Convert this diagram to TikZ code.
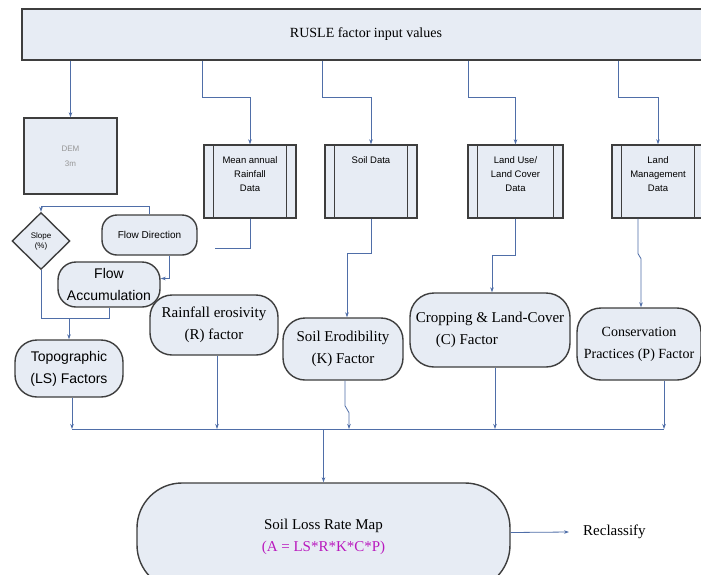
\documentclass[tikz,border=0pt]{standalone}
\usepackage{fontspec}
\setmainfont{Liberation Serif}
\setsansfont{Liberation Sans}
\usetikzlibrary{shapes.geometric,arrows.meta}
\definecolor{boxfill}{RGB}{231,236,244}
\definecolor{boxline}{RGB}{62,62,62}
\definecolor{connc}{RGB}{79,110,168}
\definecolor{formulac}{RGB}{185,25,190}
\definecolor{demtext}{RGB}{150,150,150}
\newcommand\myfs[2]{\fontsize{#1}{#2}\selectfont}
\begin{document}
\begin{tikzpicture}[x=1pt,y=-1pt,
  box/.style={draw=boxline,fill=boxfill,line width=1.4pt,inner sep=0pt},
  databox/.style={box,minimum width=92pt,minimum height=73pt},
  datalab/.style={font=\sffamily\myfs{9.5}{14},align=center,anchor=north,yshift=-9pt},
  term/.style={box,rounded corners=#1,align=center},
  term/.default=20pt,
  conn/.style={draw=connc,line width=0.8pt},
  arr/.style={conn,-{Stealth[length=5pt,width=3.5pt]}},
  factor/.style={font=\myfs{15}{22}},
  sfactor/.style={font=\sffamily\myfs{14}{22}}
]
\useasboundingbox (0,0) rectangle (701,574);
\clip (0,0) rectangle (701,574);
\fill[white] (0,0) rectangle (701,574);

% top bar
\node[box,minimum width=688pt,minimum height=51pt,font=\myfs{14}{16}] (top) at (366,34.5) {RUSLE factor input values};

% DEM and data boxes
\node[box,minimum width=93pt,minimum height=76pt,align=center,font=\sffamily\myfs{8}{15},text=demtext] (dem) at (70.5,156) {DEM\\3m};
\node[databox,label={[datalab]north:Mean annual\\Rainfall\\Data}] (d1) at (250,181.5) {};
\node[databox,label={[datalab]north:Soil Data}] (d2) at (371,181.5) {};
\node[databox,minimum width=95pt,label={[datalab]north:Land Use/\\Land Cover\\Data}] (d3) at (515.5,181.5) {};
\node[databox,label={[datalab]north:Land\\Management\\Data}] (d4) at (658,181.5) {};
\foreach \n in {d1,d2,d3,d4}{
  \draw[draw=boxline,line width=1.2pt] ([xshift=10pt]\n.north west) -- ([xshift=10pt]\n.south west);
  \draw[draw=boxline,line width=1.2pt] ([xshift=-10pt]\n.north east) -- ([xshift=-10pt]\n.south east);
}

% left-hand terrain chain
\node[box,diamond,minimum width=58pt,minimum height=57pt,align=center,font=\sffamily\myfs{8}{10}] (slope) at (41,241) {Slope\\(\%)};
\node[term=15pt,minimum width=95pt,minimum height=40pt,font=\sffamily\myfs{10}{12}] (fdir) at (149.5,235) {Flow Direction};
\node[term=18pt,minimum width=102pt,minimum height=45pt,sfactor] (facc) at (109,284.5) {Flow\\Accumulation};
\node[term=22pt,minimum width=108pt,minimum height=57pt,sfactor] (ls) at (69,368.5) {Topographic\\(LS) Factors};

% factor nodes
\node[term=22pt,minimum width=128pt,minimum height=60pt,factor] (rf) at (214,325) {Rainfall erosivity\\(R) factor};
\node[term=22pt,minimum width=120pt,minimum height=62pt,factor] (kf) at (343,349) {Soil Erodibility\\(K) Factor};
\node[term=24pt,minimum width=160pt,minimum height=74pt,factor,align=left] (cf) at (490,330) {Cropping \& Land-Cover\\\hspace*{20pt}(C) Factor};
\node[term=24pt,minimum width=124pt,minimum height=72pt,font=\myfs{14}{22}] (pf) at (639,344) {Conservation\\Practices (P) Factor};

% result
\node[term=45pt,minimum width=373pt,minimum height=107pt,factor] (sl) at (323.5,536.5) {Soil Loss Rate Map\\\textcolor{formulac}{(A = LS*R*K*C*P)}};
\node[anchor=west,inner sep=2pt,font=\myfs{15}{18}] (rc) at (581,532) {Reclassify};

% connectors from the top bar
\draw[arr] (top.south -| dem.north) -- (dem.north);
\draw[arr] (top.south -| 202,0) -- (202,97) -- (d1.north |- 0,97) -- (d1.north);
\draw[arr] (top.south -| 322,0) -- (322,97) -- (d2.north |- 0,97) -- (d2.north);
\draw[arr] (top.south -| 468,0) -- (468,97) -- (d3.north |- 0,97) -- (d3.north);
\draw[arr] (top.south -| 618,0) -- (618,97) -- (d4.north |- 0,97) -- (d4.north);

% terrain chain connectors
\draw[arr] (fdir.north) -- ++(0,-8) -| (slope.north);
\draw[arr] ([xshift=20pt]fdir.south) |- ([yshift=6pt]facc.east);
\draw[conn] (slope.south) -- (slope.south |- 0,318) -| (facc.south);
\draw[arr] (ls.north |- 0,318) -- (ls.north);

% data to factors
\coordinate (rfe) at (215,248);
\draw[conn] (d1.south) -- (d1.south |- rfe) -- (rfe);
\draw[arr] (d2.south) -- (d2.south |- 0,253) -| ([xshift=4pt]kf.north);
\draw[arr] (d3.south) -- (d3.south |- 0,255) -| ([xshift=2pt]cf.north);
\draw[arr] ([xshift=-20pt]d4.south) -- ++(0,35) -- ++(3,5) -- ([xshift=2pt]pf.north);

% collecting bus
\coordinate (bl) at (72,429);
\coordinate (br) at (664,429);
\draw[conn] (bl) -- (br);
\draw[arr] ([xshift=3pt]ls.south) -- (bl);
\draw[arr] ([xshift=3pt]rf.south) -- ([xshift=3pt]rf.south |- bl);
\draw[arr] ([xshift=2pt]kf.south) -- ++(0,25) -- ++(4,7) -- (bl -| 349,0);
\draw[arr] ([xshift=5pt]cf.south) -- ([xshift=5pt]cf.south |- bl);
\draw[arr] ([xshift=25pt]pf.south) -- (br);
\draw[arr] (bl -| sl.north) -- (sl.north);
\draw[arr] ([yshift=4pt]sl.east) -- ([xshift=-12pt]rc.west);
\end{tikzpicture}
\end{document}
